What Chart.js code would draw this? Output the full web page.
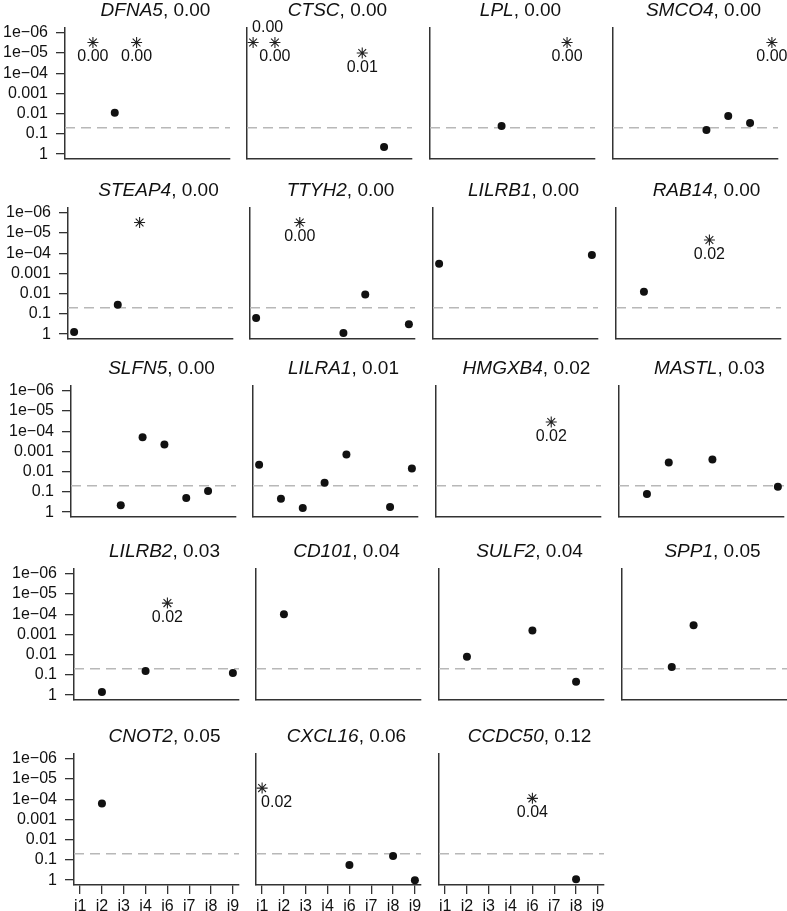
<!DOCTYPE html>
<html>
<head>
<meta charset="utf-8">
<script src="https://cdn.jsdelivr.net/npm/chart.js@4.4.1/dist/chart.umd.min.js"></script>
<style>
  html, body { margin: 0; padding: 0; background: #fff; }
  body { width: 787px; height: 911px; position: relative; overflow: hidden; }
  canvas { position: absolute; }
</style>
</head>
<body>
<script>
// panels, row by row, with the score printed in each title
const genes = ['DFNA5', 'CTSC', 'LPL', 'SMCO4', 'STEAP4', 'TTYH2', 'LILRB1', 'RAB14',
  'SLFN5', 'LILRA1', 'HMGXB4', 'MASTL', 'LILRB2', 'CD101', 'SULF2', 'SPP1',
  'CNOT2', 'CXCL16', 'CCDC50'];
const geneScores = ['0.00', '0.00', '0.00', '0.00', '0.00', '0.00', '0.00', '0.00',
  '0.00', '0.01', '0.02', '0.03', '0.03', '0.04', '0.04', '0.05',
  '0.05', '0.06', '0.12'];

const categories = ['i1', 'i2', 'i3', 'i4', 'i6', 'i7', 'i8', 'i9'];
const yTicks = [1e-6, 1e-5, 1e-4, 0.001, 0.01, 0.1, 1];
const yTickLabels = ['1e\u221206', '1e\u221205', '1e\u221204', '0.001', '0.01', '0.1', '1'];
const threshold = 0.05;

// filled dots, one row per gene, one column per category (null = none)
const dotValues = [
  //  i1     i2      i3      i4      i6      i7      i8     i9
  [null,   null,   0.009,  null,   null,   null,   null,  null],   // DFNA5
  [null,   null,   null,   null,   null,   null,   0.44,  null],   // CTSC
  [null,   null,   null,   0.04,   null,   null,   null,  null],   // LPL
  [null,   null,   null,   null,   0.063,  0.013,  0.029, null],   // SMCO4
  [0.78,   null,   0.035,  null,   null,   null,   null,  null],   // STEAP4
  [0.16,   null,   null,   null,   0.87,   0.011,  null,  0.32],   // TTYH2
  [3.3e-4, null,   null,   null,   null,   null,   null,  1.2e-4], // LILRB1
  [null,   0.008,  null,   null,   null,   null,   null,  null],   // RAB14
  [null,   null,   0.45,   2e-4,   4.5e-4, 0.2,    0.089, null],   // SLFN5
  [0.0045, 0.22,   0.63,   0.035,  0.0014, null,   0.56,  0.007],  // LILRA1
  [null,   null,   null,   null,   null,   null,   null,  null],   // HMGXB4
  [null,   0.126,  0.0035, null,   0.0025, null,   null,  0.056],  // MASTL
  [null,   0.7,    null,   0.063,  null,   null,   null,  0.08],   // LILRB2
  [null,   1e-4,   null,   null,   null,   null,   null,  null],   // CD101
  [null,   0.0126, null,   null,   6.3e-4, null,   0.22,  null],   // SULF2
  [null,   null,   0.04,   3.5e-4, null,   null,   null,  null],   // SPP1
  [null,   1.6e-4, null,   null,   null,   null,   null,  null],   // CNOT2
  [null,   null,   null,   null,   0.18,   null,   0.063, 1.0],    // CXCL16
  [null,   null,   null,   null,   null,   null,   0.9,   null]    // CCDC50
];

// asterisks
const starValues = [
  [null, 3e-6, null, 3e-6, null,   null,   null, null],  // DFNA5
  [3e-6, 3e-6, null, null, null,   1e-5,   null, null],  // CTSC
  [null, null, null, null, null,   null,   3e-6, null],  // LPL
  [null, null, null, null, null,   null,   null, 3e-6],  // SMCO4
  [null, null, null, 3e-6, null,   null,   null, null],  // STEAP4
  [null, null, 3e-6, null, null,   null,   null, null],  // TTYH2
  [null, null, null, null, null,   null,   null, null],  // LILRB1
  [null, null, null, null, 2.2e-5, null,   null, null],  // RAB14
  [null, null, null, null, null,   null,   null, null],  // SLFN5
  [null, null, null, null, null,   null,   null, null],  // LILRA1
  [null, null, null, null, null,   3.5e-5, null, null],  // HMGXB4
  [null, null, null, null, null,   null,   null, null],  // MASTL
  [null, null, null, null, 2.8e-5, null,   null, null],  // LILRB2
  [null, null, null, null, null,   null,   null, null],  // CD101
  [null, null, null, null, null,   null,   null, null],  // SULF2
  [null, null, null, null, null,   null,   null, null],  // SPP1
  [null, null, null, null, null,   null,   null, null],  // CNOT2
  [2.8e-5, null, null, null, null, null,   null, null],  // CXCL16
  [null, null, null, null, 9e-5,   null,   null, null]   // CCDC50
];
// text printed next to each asterisk
const starLabels = [
  [null,   '0.00', null,   '0.00', null,   null,   null,   null],
  ['0.00', '0.00', null,   null,   null,   '0.01', null,   null],
  [null,   null,   null,   null,   null,   null,   '0.00', null],
  [null,   null,   null,   null,   null,   null,   null,   '0.00'],
  [null,   null,   null,   null,   null,   null,   null,   null],
  [null,   null,   '0.00', null,   null,   null,   null,   null],
  [null,   null,   null,   null,   null,   null,   null,   null],
  [null,   null,   null,   null,   '0.02', null,   null,   null],
  [null,   null,   null,   null,   null,   null,   null,   null],
  [null,   null,   null,   null,   null,   null,   null,   null],
  [null,   null,   null,   null,   null,   '0.02', null,   null],
  [null,   null,   null,   null,   null,   null,   null,   null],
  [null,   null,   null,   null,   '0.02', null,   null,   null],
  [null,   null,   null,   null,   null,   null,   null,   null],
  [null,   null,   null,   null,   null,   null,   null,   null],
  [null,   null,   null,   null,   null,   null,   null,   null],
  [null,   null,   null,   null,   null,   null,   null,   null],
  ['0.02', null,   null,   null,   null,   null,   null,   null],
  [null,   null,   null,   null,   '0.04', null,   null,   null]
];
// labels drawn above the asterisk instead of below
const labelAbove = ['CTSC:i1'];

// layout
const FONT = '"Liberation Sans", Arial, Helvetica, sans-serif';
const xMin = 0.72, xMax = 8.28;
const logMin = -6.24, logMax = 0.24;
const plotW = 165, decadePx = 20.15;
const plotH = (logMax - logMin) * decadePx;
const colX = [65, 247, 430, 613];
const rowShift = [0, 3, 6, 9, 9];
const rowTop = [33, 213, 391, 574, 759];   // pixel of 1e-06
const padTop = 28, padLeft = 8, padRight = 12;
const yAxisW = 62, xAxisH = 31;

const panelText = {
  id: 'panelText',
  afterDatasetsDraw(chart, args, opts) {
    const { ctx, chartArea } = chart;
    ctx.save();
    ctx.fillStyle = '#111';
    // title: italic gene + plain score
    const it = 'italic 19px ' + FONT, nm = '19px ' + FONT;
    const rest = ', ' + opts.score;
    ctx.font = it; const w1 = ctx.measureText(opts.gene).width;
    ctx.font = nm; const w2 = ctx.measureText(rest).width;
    const tx = (chartArea.left + chartArea.right) / 2 + 8 - (w1 + w2) / 2;
    const ty = chartArea.top - 12;
    ctx.textAlign = 'left';
    ctx.textBaseline = 'alphabetic';
    ctx.font = it; ctx.fillText(opts.gene, tx, ty);
    ctx.font = nm; ctx.fillText(rest, tx + w1, ty);

    // asterisk labels
    const meta = chart.getDatasetMeta(2);
    const ds = chart.data.datasets[2];
    ctx.font = '16px ' + FONT;
    ctx.textBaseline = 'middle';
    meta.data.forEach((el, k) => {
      const d = ds.data[k];
      if (!d.label) return;
      const above = labelAbove.includes(opts.gene + ':' + categories[d.x - 1]);
      const y = el.y + (above ? -14.5 : 14.5);
      if (d.x === 1) {
        ctx.textAlign = 'left';
        ctx.fillText(d.label, el.x - 1, y);
      } else {
        ctx.textAlign = 'center';
        ctx.fillText(d.label, el.x, y);
      }
    });
    ctx.restore();
  }
};

genes.forEach((gene, i) => {
  const row = Math.floor(i / 4), col = i % 4;
  const showY = col === 0;
  const showX = i >= 16;
  const axisX = colX[col] + rowShift[row];
  const chartTop = rowTop[row] - (-6 - logMin) * decadePx;
  const yW = showY ? yAxisW : 0;
  const xH = showX ? xAxisH : 0;
  const padBottom = showX ? 2 : 22;

  const canvas = document.createElement('canvas');
  canvas.width = padLeft + yW + plotW + padRight;
  canvas.height = Math.round(padTop + plotH + xH + padBottom);
  canvas.style.left = (axisX - padLeft - yW) + 'px';
  canvas.style.top = (chartTop - padTop) + 'px';
  document.body.appendChild(canvas);

  const dots = [], stars = [];
  dotValues[i].forEach((v, j) => { if (v !== null) dots.push({ x: j + 1, y: v }); });
  starValues[i].forEach((v, j) => {
    if (v !== null) stars.push({ x: j + 1, y: v, label: starLabels[i][j] });
  });

  new Chart(canvas, {
    type: 'scatter',
    data: {
      datasets: [
        {
          type: 'line',
          data: [{ x: xMin, y: threshold }, { x: xMax, y: threshold }],
          borderColor: '#b8b8b8',
          borderWidth: 1.5,
          borderDash: [10, 6],
          pointRadius: 0,
          order: 3
        },
        {
          data: dots,
          pointRadius: 4,
          pointHoverRadius: 4,
          backgroundColor: '#111',
          borderWidth: 0,
          order: 2,
          clip: false
        },
        {
          data: stars,
          pointStyle: 'star',
          pointRadius: 5.5,
          pointHoverRadius: 5.5,
          borderColor: '#222',
          borderWidth: 1.1,
          order: 1,
          clip: false
        }
      ]
    },
    options: {
      responsive: false,
      animation: false,
      events: [],
      layout: { padding: { top: padTop, left: padLeft, right: padRight, bottom: padBottom } },
      plugins: {
        legend: { display: false },
        tooltip: { enabled: false },
        panelText: { gene: gene, score: geneScores[i] }
      },
      scales: {
        x: {
          type: 'linear',
          min: xMin,
          max: xMax,
          afterBuildTicks: s => { s.ticks = categories.map((c, k) => ({ value: k + 1 })); },
          afterFit: s => { s.height = xH; },
          grid: {
            display: showX,
            drawOnChartArea: false,
            drawTicks: true,
            tickLength: 9,
            color: '#333',
            lineWidth: 1.3
          },
          border: { display: true, color: '#333', width: 1.5 },
          ticks: {
            display: showX,
            autoSkip: false,
            maxRotation: 0,
            padding: 3,
            color: '#111',
            font: { family: FONT, size: 16 },
            callback: (v, k) => categories[k]
          }
        },
        y: {
          type: 'logarithmic',
          reverse: true,
          min: Math.pow(10, logMin),
          max: Math.pow(10, logMax),
          afterBuildTicks: s => { s.ticks = yTicks.map(v => ({ value: v })); },
          afterFit: s => { s.width = yW; },
          grid: {
            display: showY,
            drawOnChartArea: false,
            drawTicks: true,
            tickLength: 9,
            color: '#333',
            lineWidth: 1.3
          },
          border: { display: true, color: '#333', width: 1.5 },
          ticks: {
            display: showY,
            autoSkip: false,
            padding: 8,
            color: '#111',
            font: { family: FONT, size: 16 },
            callback: (v, k) => yTickLabels[k]
          }
        }
      }
    },
    plugins: [panelText]
  });
});
</script>
</body>
</html>
